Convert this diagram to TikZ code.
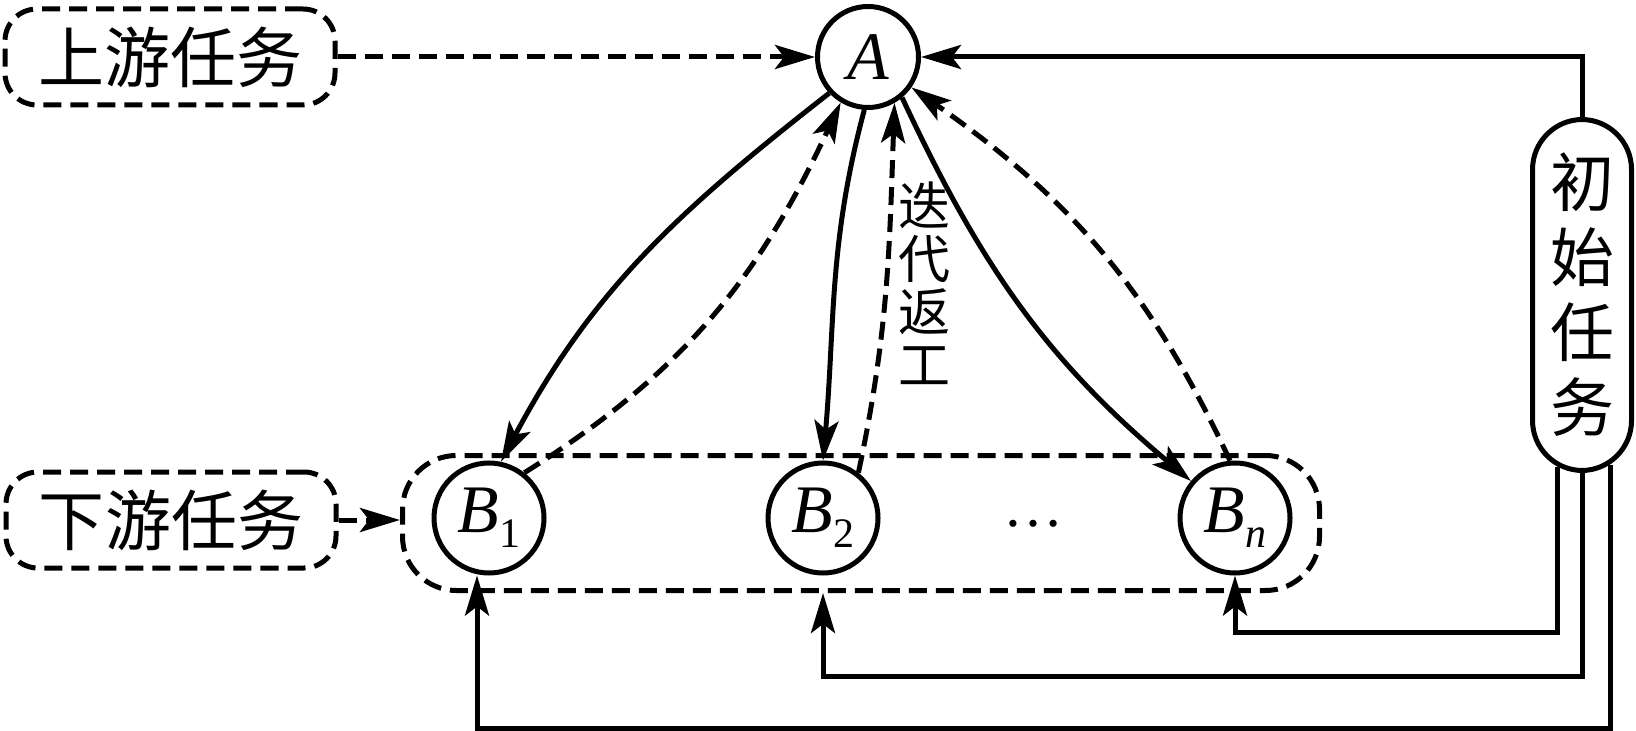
\documentclass[tikz,border=0pt]{standalone}
\usepackage{fontspec}
\usepackage{tikz}
\usetikzlibrary{positioning, arrows.meta}
\newfontfamily\cjk{Noto Sans CJK SC}
\newfontfamily\tnr{Liberation Serif}
\newcommand{\evsub}[1]{\raisebox{-7.5pt}{\fontsize{21}{21}\selectfont #1}}
\tikzstyle{task} = [rectangle, rounded corners=16pt, minimum width=165pt, minimum height=48pt, text centered, draw=black, line width=2.5pt, dash pattern=on 9pt off 4.5pt, font=\cjk\fontsize{33}{33}\selectfont]
\tikzstyle{event} = [circle, inner sep=0pt, minimum size=55pt, draw=black, line width=2.5pt, font=\tnr\fontsize{34}{34}\selectfont]
\tikzstyle{arrow} = [line width=2.5pt, -{Stealth[length=20pt, width=12pt, inset=4.5pt]}]
\tikzstyle{dasharrow} = [arrow, dash pattern=on 9pt off 4.5pt]

\begin{document}
\begin{tikzpicture}[x=0.5pt, y=0.5pt]
        \useasboundingbox (0,0) rectangle (1636,-731);

        \node[task]                                            (up)     at (170,-57)   {上游任务};
        \node[task]                                            (down)   at (171,-520)  {下游任务};
        \node[rectangle, rounded corners=27pt, minimum width=458.5pt, minimum height=67.5pt,
              draw=black, line width=2.5pt, dash pattern=on 9pt off 4.5pt] (group) at (861,-523) {};
        \node[event, minimum size=50.5pt]                      (A)      at (868,-57)   {\itshape A};
        \node[event]                                           (B1)     at (489,-518)  {\itshape B\evsub{\upshape 1}};
        \node[event]                                           (B2)     at (823,-518)  {\itshape B\evsub{\upshape 2}};
        \node[event]                                           (Bn)     at (1235,-518) {\itshape B\evsub{n}};
        \node[font=\tnr\fontsize{30}{30}\selectfont]           (dots)   at (1033,-524) {…};
        \node[rectangle, rounded corners=25pt, minimum width=49.5pt, minimum height=175.5pt, draw=black,
              line width=2.5pt, align=center, font=\cjk\fontsize{32}{37.5}\selectfont] (init) at (1582,-295) {初\\始\\任\\务};
        \node[align=center, font=\cjk\fontsize{26}{26.5}\selectfont] (rework) at (924,-283) {迭\\代\\返\\工};

        \draw[dasharrow] (up.east)  -- (A.west);
        \draw[dasharrow] (down.east) -- (down.east -| group.west);

        \draw[arrow]     (A.223) to[out=218, in=62]  (B1.78);
        \draw[dasharrow] (B1.52) to[out=32,  in=245] (A.239);
        \draw[arrow]     (A.266) to[out=255, in=85]  (B2.90);
        \draw[dasharrow] (B2.52) to[out=78,  in=268] (A.300);
        \draw[arrow]     (A.310) to[out=295, in=140] (Bn.140);
        \draw[dasharrow] (Bn.95) to[out=115, in=325] (A.325);

        \draw[arrow] (init.north) |- (A.east);
        \draw[arrow] ([xshift=-12.5pt, yshift=3pt]init.south) -- ++(0,-165) -| (Bn.south);
        \draw[arrow] (init.south) -- ++(0,-203) -| (B2 |- group.south);
        \draw[arrow] ([xshift=14pt, yshift=4pt]init.south) -- ++(0,-263) -| ([xshift=-6pt]B1.south);
    \end{tikzpicture}
\end{document}
